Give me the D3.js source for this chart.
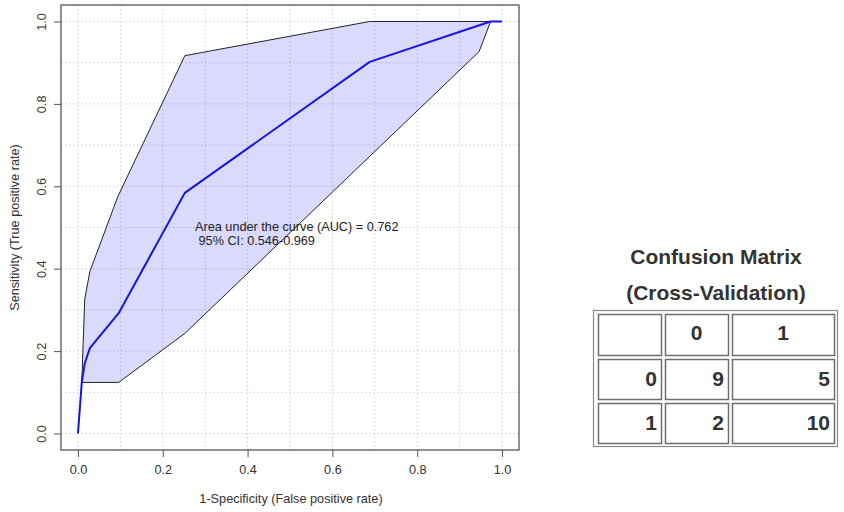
<!DOCTYPE html>
<html>
<head>
<meta charset="utf-8">
<script src="https://cdn.jsdelivr.net/npm/d3@7/dist/d3.min.js"></script>
<style>
  html, body { margin: 0; padding: 0; background: #fff; }
  svg { display: block; font-family: "Liberation Sans", Arial, sans-serif; }
</style>
</head>
<body>
<svg id="chart" width="844" height="512"></svg>
<script>
// ROC curve: false positive rate (1 - specificity) vs true positive rate
const rocFpr = [0, 0.009, 0.016, 0.028, 0.096, 0.252, 0.688, 0.973, 1];
const rocTpr = [0, 0.124, 0.170, 0.207, 0.292, 0.584, 0.902, 1.000, 1];

// 95% confidence band of sensitivity: upper and lower boundaries
const ciUpperFpr = [0.009, 0.016, 0.028, 0.094, 0.252, 0.688, 1];
const ciUpperTpr = [0.124, 0.326, 0.393, 0.575, 0.917, 1.000, 1];
const ciLowerFpr = [0.009, 0.096, 0.252, 0.946, 0.973, 1];
const ciLowerTpr = [0.124, 0.124, 0.243, 0.927, 1.000, 1];

const axisTicks = [0, 0.2, 0.4, 0.6, 0.8, 1.0];
const gridTicks = [0, 0.1, 0.2, 0.3, 0.4, 0.5, 0.6, 0.7, 0.8, 0.9, 1.0];

const aucText = "Area under the curve (AUC) = 0.762";
const ciText = " 95% CI: 0.546-0.969";

// Confusion matrix (rows: actual, columns: predicted)
const cmTitle = ["Confusion Matrix", "(Cross-Validation)"];
const cmClasses = ["0", "1"];
const cmValues = [[9, 5], [2, 10]];

const svg = d3.select("#chart");
const labelSize = 12.7;

const plot = { left: 61, right: 519, top: 5, bottom: 450 };
const x = d3.scaleLinear().domain([-0.04, 1.04]).range([plot.left, plot.right]);
const y = d3.scaleLinear().domain([-0.04, 1.04]).range([plot.bottom, plot.top]);

// grid
const grid = svg.append("g")
  .attr("stroke", "#d0d0d0").attr("stroke-width", 1)
  .attr("stroke-dasharray", "1.5,2.5");
grid.selectAll("line.v").data(gridTicks).join("line")
  .attr("class", "v")
  .attr("x1", d => x(d)).attr("x2", d => x(d))
  .attr("y1", plot.top).attr("y2", plot.bottom);
grid.selectAll("line.h").data(gridTicks).join("line")
  .attr("class", "h")
  .attr("y1", d => y(d)).attr("y2", d => y(d))
  .attr("x1", plot.left).attr("x2", plot.right);

// confidence band
const upper = ciUpperFpr.map((f, i) => [f, ciUpperTpr[i]]);
const lower = ciLowerFpr.map((f, i) => [f, ciLowerTpr[i]]);
const line = d3.line().x(d => x(d[0])).y(d => y(d[1]));
const band = upper.concat(lower.slice().reverse());

svg.append("path")
  .attr("d", line(band) + "Z")
  .attr("fill", "rgba(0,0,255,0.145)")
  .attr("stroke", "none");
[upper, lower].forEach(b => {
  svg.append("path")
    .attr("d", line(b))
    .attr("fill", "none")
    .attr("stroke", "#222")
    .attr("stroke-width", 1);
});

// ROC curve
svg.append("path")
  .attr("d", line(rocFpr.map((f, i) => [f, rocTpr[i]])))
  .attr("fill", "none")
  .attr("stroke", "#1414e6")
  .attr("stroke-width", 2)
  .attr("stroke-linejoin", "round");

// AUC annotation
const ann = svg.append("text")
  .attr("font-size", labelSize).attr("fill", "#222")
  .attr("xml:space", "preserve");
ann.append("tspan").attr("x", 195).attr("y", 231).text(aucText);
ann.append("tspan").attr("x", 195).attr("y", 245).text(ciText);

// axes
const axisColor = "#555";
const xAxis = svg.append("g")
  .attr("transform", `translate(0,${plot.bottom})`)
  .call(d3.axisBottom(x).tickValues(axisTicks).tickFormat(d3.format(".1f")).tickSize(7).tickPadding(8));
xAxis.select(".domain").remove();
xAxis.selectAll("line").attr("stroke", axisColor);
xAxis.selectAll("text").attr("font-size", labelSize).attr("fill", "#333")
  .attr("font-family", "Liberation Sans, Arial, sans-serif");

const yAxis = svg.append("g")
  .attr("transform", `translate(${plot.left},0)`)
  .call(d3.axisLeft(y).tickValues(axisTicks).tickFormat(d3.format(".1f")).tickSize(7));
yAxis.select(".domain").remove();
yAxis.selectAll("line").attr("stroke", axisColor);
yAxis.selectAll("text")
  .attr("font-size", labelSize).attr("fill", "#333")
  .attr("font-family", "Liberation Sans, Arial, sans-serif")
  .attr("x", null).attr("dy", null)
  .attr("text-anchor", "middle")
  .attr("transform", "translate(-15,0) rotate(-90)")
  .attr("y", 0);

// plot box
svg.append("rect")
  .attr("x", plot.left).attr("y", plot.top)
  .attr("width", plot.right - plot.left).attr("height", plot.bottom - plot.top)
  .attr("fill", "none").attr("stroke", axisColor).attr("stroke-width", 1.3);

// axis titles
svg.append("text")
  .attr("x", 291).attr("y", 503)
  .attr("text-anchor", "middle").attr("font-size", labelSize).attr("fill", "#333")
  .text("1-Specificity (False positive rate)");
svg.append("text")
  .attr("transform", `translate(19,${(plot.top + plot.bottom) / 2}) rotate(-90)`)
  .attr("text-anchor", "middle").attr("font-size", labelSize).attr("fill", "#333")
  .text("Sensitivity (True positive rate)");

// confusion matrix table
const tbl = svg.append("g");
tbl.selectAll("text.title").data(cmTitle).join("text")
  .attr("class", "title")
  .attr("x", 716).attr("y", (d, i) => 264 + i * 36)
  .attr("text-anchor", "middle")
  .attr("font-size", 21).attr("font-weight", "bold").attr("fill", "#333")
  .text(d => d);

const colEdges = [[598, 661], [665, 728], [732, 834]];
const rowEdges = [[314, 355], [359, 399], [403, 443]];
const baselines = [340, 386, 430];

tbl.append("rect")
  .attr("x", 593.5).attr("y", 310.5).attr("width", 244).attr("height", 136)
  .attr("fill", "none").attr("stroke", "#8a8a8a").attr("stroke-width", 1.2);

const cells = [];
cells.push({ r: 0, c: 0, t: "", anchor: "end" });
cmClasses.forEach((k, j) => cells.push({ r: 0, c: j + 1, t: k, anchor: "middle" }));
cmClasses.forEach((k, i) => {
  cells.push({ r: i + 1, c: 0, t: k, anchor: "end" });
  cmValues[i].forEach((v, j) => cells.push({ r: i + 1, c: j + 1, t: String(v), anchor: "end" }));
});

tbl.selectAll("rect.cell").data(cells).join("rect")
  .attr("class", "cell")
  .attr("x", d => colEdges[d.c][0] + 0.5)
  .attr("y", d => rowEdges[d.r][0] + 0.5)
  .attr("width", d => colEdges[d.c][1] - colEdges[d.c][0])
  .attr("height", d => rowEdges[d.r][1] - rowEdges[d.r][0])
  .attr("fill", "none").attr("stroke", "#6e6e6e").attr("stroke-width", 1.5);

tbl.selectAll("text.val").data(cells).join("text")
  .attr("class", "val")
  .attr("x", d => d.anchor === "middle" ? (colEdges[d.c][0] + colEdges[d.c][1]) / 2 : colEdges[d.c][1] - 4)
  .attr("y", d => baselines[d.r])
  .attr("text-anchor", d => d.anchor)
  .attr("font-size", 21).attr("font-weight", "bold").attr("fill", "#333")
  .text(d => d.t);
</script>
</body>
</html>
